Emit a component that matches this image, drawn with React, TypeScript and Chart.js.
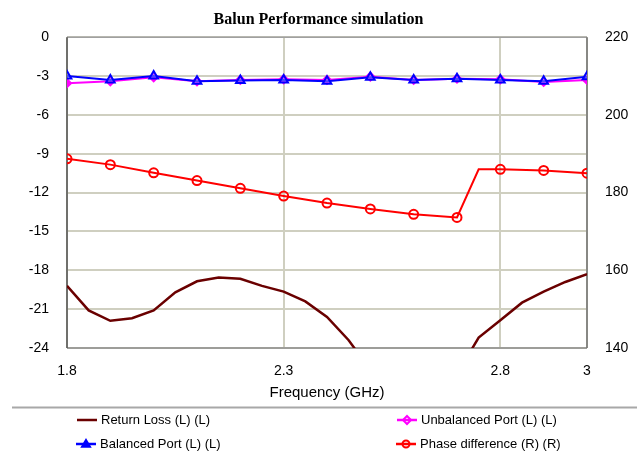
import React, { useEffect, useRef } from 'react';
import { Chart, registerables } from 'chart.js';

Chart.register(...registerables);

const chartTitle = 'Balun Performance simulation';
const xAxisTitle = 'Frequency (GHz)';
const xTickValues = [1.8, 2.3, 2.8, 3];

const returnLossFreq = [1.8, 1.85, 1.9, 1.95, 2.0, 2.05, 2.1, 2.15, 2.2, 2.25, 2.3, 2.35, 2.4, 2.45, 2.5, 2.55, 2.6, 2.65, 2.7, 2.75, 2.8, 2.85, 2.9, 2.95, 3.0];
const returnLossVals = [-19.2, -21.1, -21.9, -21.7, -21.1, -19.7, -18.85, -18.55, -18.65, -19.2, -19.65, -20.4, -21.6, -23.4, -25.7, -28, -29, -28, -26, -23.2, -21.85, -20.5, -19.65, -18.9, -18.3];

const portFreq = [1.8, 1.9, 2.0, 2.1, 2.2, 2.3, 2.4, 2.5, 2.6, 2.7, 2.8, 2.9, 3.0];
const unbalancedVals = [-3.55, -3.4, -3.1, -3.4, -3.3, -3.25, -3.3, -3.05, -3.3, -3.2, -3.25, -3.45, -3.3];
const balancedVals = [-3.0, -3.3, -3.0, -3.4, -3.35, -3.3, -3.4, -3.1, -3.3, -3.2, -3.3, -3.4, -3.05];

const phaseFreq = [1.8, 1.9, 2.0, 2.1, 2.2, 2.3, 2.4, 2.5, 2.6, 2.7, 2.75, 2.8, 2.9, 3.0];
const phaseVals = [188.7, 187.2, 185.1, 183.1, 181.1, 179.1, 177.3, 175.8, 174.4, 173.6, 186.0, 186.0, 185.7, 185.0];
const phaseMarked = [true, true, true, true, true, true, true, true, true, true, false, true, true, true];

const legendLabels = ['Return Loss (L) (L)', 'Unbalanced Port (L) (L)', 'Balanced Port (L) (L)', 'Phase difference (R) (R)'];

const COL_RL = '#6a0000';
const COL_UNB = '#ff00ff';
const COL_BAL = '#0000ff';
const COL_PH = '#ff0000';

const toXY = (xs: number[], ys: number[]) => xs.map((x, i) => ({ x, y: ys[i] }));

function drawMarker(ctx: CanvasRenderingContext2D, style: string, x: number, y: number, r: number, color: string) {
  ctx.save();
  ctx.strokeStyle = color;
  ctx.fillStyle = color;
  ctx.lineWidth = 2;
  ctx.beginPath();
  if (style === 'circle') {
    ctx.arc(x, y, r, 0, Math.PI * 2);
    ctx.stroke();
  } else if (style === 'triangle') {
    ctx.moveTo(x, y - r);
    ctx.lineTo(x + r, y + r * 0.7);
    ctx.lineTo(x - r, y + r * 0.7);
    ctx.closePath();
    ctx.fill();
    ctx.stroke();
  } else if (style === 'rectRot') {
    ctx.moveTo(x, y - r);
    ctx.lineTo(x + r, y);
    ctx.lineTo(x, y + r);
    ctx.lineTo(x - r, y);
    ctx.closePath();
    ctx.stroke();
  }
  ctx.restore();
}

const framePlugin = {
  id: 'frame',
  beforeDatasetsDraw(chart: any) {
    const { ctx, chartArea: a } = chart;
    ctx.save();
    ctx.lineWidth = 1.5;
    ctx.strokeStyle = '#a0a0a0';
    ctx.beginPath();
    ctx.moveTo(a.left, a.top);
    ctx.lineTo(a.right, a.top);
    ctx.stroke();
    ctx.strokeStyle = '#8c8c8c';
    ctx.beginPath();
    ctx.moveTo(a.left, a.bottom);
    ctx.lineTo(a.right, a.bottom);
    ctx.stroke();
    ctx.strokeStyle = '#505050';
    ctx.beginPath();
    ctx.moveTo(a.left, a.top);
    ctx.lineTo(a.left, a.bottom);
    ctx.stroke();
    ctx.strokeStyle = '#707070';
    ctx.beginPath();
    ctx.moveTo(a.right, a.top);
    ctx.lineTo(a.right, a.bottom);
    ctx.stroke();
    ctx.restore();
  },
  afterDraw(chart: any) {
    const { ctx, width } = chart;
    ctx.save();
    // separator
    ctx.strokeStyle = '#a8a8a8';
    ctx.lineWidth = 2;
    ctx.beginPath();
    ctx.moveTo(12, 407.5);
    ctx.lineTo(width, 407.5);
    ctx.stroke();
    const items = [
      { label: legendLabels[0], color: COL_RL, marker: '', x: 77, y: 420 },
      { label: legendLabels[1], color: COL_UNB, marker: 'rectRot', x: 397, y: 420 },
      { label: legendLabels[2], color: COL_BAL, marker: 'triangle', x: 76, y: 444 },
      { label: legendLabels[3], color: COL_PH, marker: 'circle', x: 396, y: 444 },
    ];
    ctx.font = '13px "Liberation Sans", Arial, sans-serif';
    ctx.textBaseline = 'middle';
    ctx.textAlign = 'left';
    for (const it of items) {
      ctx.strokeStyle = it.color;
      ctx.lineWidth = 2.5;
      ctx.beginPath();
      ctx.moveTo(it.x, it.y);
      ctx.lineTo(it.x + 20, it.y);
      ctx.stroke();
      if (it.marker) drawMarker(ctx, it.marker, it.x + 10, it.y, it.marker === 'circle' ? 3.5 : 4, it.color);
      ctx.fillStyle = '#000';
      ctx.fillText(it.label, it.x + 24, it.y + 0.5);
    }
    ctx.restore();
  },
};

export default function App() {
  const ref = useRef<HTMLCanvasElement | null>(null);
  useEffect(() => {
    document.body.style.margin = '0';
    const tickFont = { family: '"Liberation Sans", Arial, sans-serif', size: 14 };
    const chart = new Chart(ref.current as HTMLCanvasElement, {
      type: 'line',
      data: {
        datasets: [
          {
            label: legendLabels[3],
            data: toXY(phaseFreq, phaseVals),
            yAxisID: 'y1',
            borderColor: COL_PH,
            borderWidth: 2,
            pointStyle: 'circle',
            pointRadius: (c: any) => (phaseMarked[c.dataIndex] ? 4.5 : 0),
            pointBorderWidth: 2,
            pointBorderColor: COL_PH,
            pointBackgroundColor: 'rgba(0,0,0,0)',
            order: 0,
          },
          {
            label: legendLabels[2],
            data: toXY(portFreq, balancedVals),
            yAxisID: 'y',
            borderColor: COL_BAL,
            borderWidth: 2,
            pointStyle: 'triangle',
            pointRadius: 5,
            pointBorderWidth: 2,
            pointBorderColor: COL_BAL,
            pointBackgroundColor: 'rgba(180,180,255,0.4)',
            order: 1,
          },
          {
            label: legendLabels[1],
            data: toXY(portFreq, unbalancedVals),
            yAxisID: 'y',
            borderColor: COL_UNB,
            borderWidth: 2,
            pointStyle: 'rectRot',
            pointRadius: 4,
            pointBorderWidth: 2,
            pointBorderColor: COL_UNB,
            pointBackgroundColor: COL_UNB,
            order: 2,
          },
          {
            label: legendLabels[0],
            data: toXY(returnLossFreq, returnLossVals),
            yAxisID: 'y',
            borderColor: COL_RL,
            borderWidth: 2.5,
            pointRadius: 0,
            order: 3,
          },
        ],
      },
      options: {
        animation: false,
        responsive: false,
        maintainAspectRatio: false,
        layout: { padding: 0 },
        plugins: {
          legend: { display: false },
          tooltip: { enabled: false },
          title: {
            display: true,
            text: chartTitle,
            color: '#000',
            font: { family: '"Liberation Serif", "Times New Roman", serif', size: 16, weight: 'bold' },
            padding: { top: 10, bottom: 8 },
          },
        },
        scales: {
          x: {
            type: 'linear',
            min: 1.8,
            max: 3,
            afterBuildTicks: (s: any) => {
              s.ticks = xTickValues.map((v) => ({ value: v }));
            },
            afterFit: (s: any) => {
              s.height = 105;
            },
            ticks: {
              color: '#000',
              font: tickFont,
              padding: 15,
              maxRotation: 0,
              autoSkip: false,
              callback: (v: any) => String(v),
            },
            grid: { color: '#cfcfc0', lineWidth: 2, drawTicks: false },
            border: { display: false },
            title: {
              display: true,
              text: xAxisTitle,
              color: '#000',
              font: { family: '"Liberation Sans", Arial, sans-serif', size: 15 },
              padding: { top: 0, bottom: 51 },
            },
          },
          y: {
            type: 'linear',
            position: 'left',
            min: -24,
            max: 0,
            ticks: { stepSize: 3, color: '#000', font: tickFont, padding: 18 },
            afterFit: (s: any) => {
              s.width = 67;
            },
            grid: { color: '#cfcfc0', lineWidth: 2, drawTicks: false },
            border: { display: false },
          },
          y1: {
            type: 'linear',
            position: 'right',
            min: 140,
            max: 220,
            ticks: { stepSize: 20, color: '#000', font: tickFont, padding: 18 },
            afterFit: (s: any) => {
              s.width = 50;
            },
            grid: { display: false, drawTicks: false },
            border: { display: false },
          },
        },
      } as any,
      plugins: [framePlugin],
    });
    return () => chart.destroy();
  }, []);
  return (
    <div style={{ position: 'absolute', left: 0, top: 0, width: 637, height: 453, background: '#fff' }}>
      <canvas ref={ref} width={637} height={453} />
    </div>
  );
}
